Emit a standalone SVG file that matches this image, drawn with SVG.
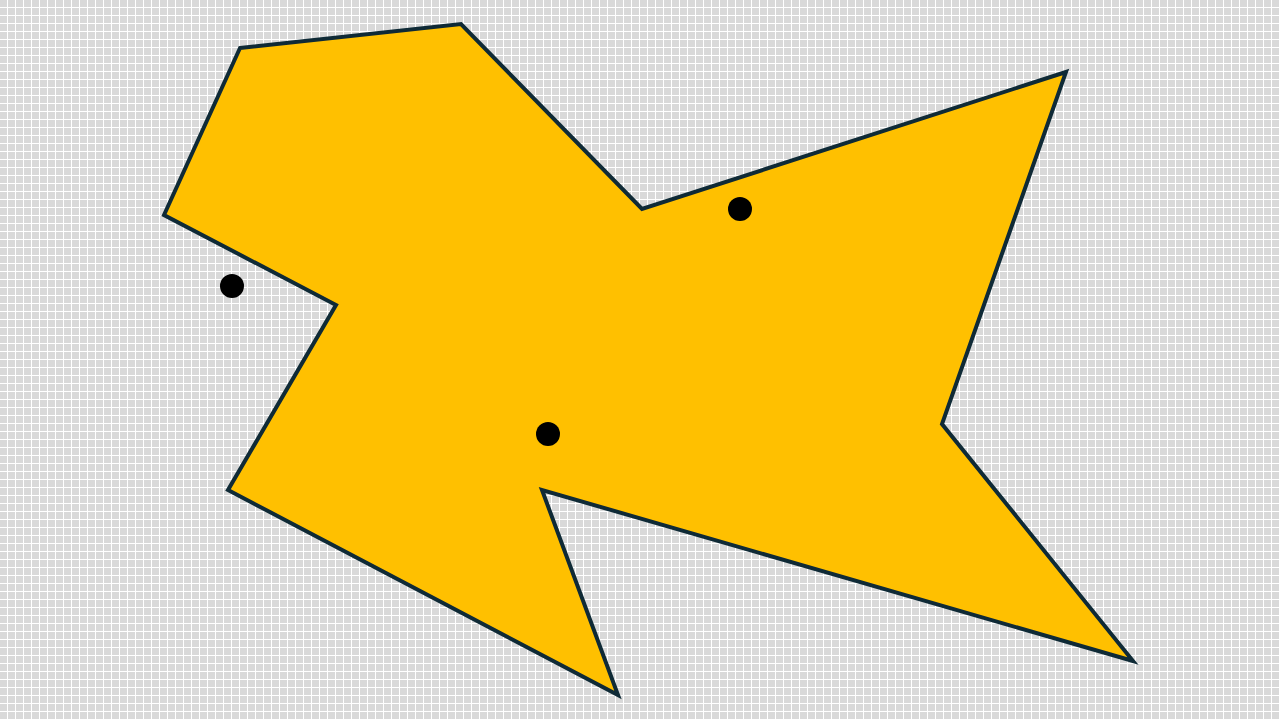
<svg xmlns="http://www.w3.org/2000/svg" width="1280" height="720" viewBox="0 0 1280 720">
<defs>
<pattern id="grid" x="0" y="0" width="8" height="8" patternUnits="userSpaceOnUse">
<rect x="0" y="0" width="8" height="8" fill="#ffffff"/>
<rect x="0" y="0" width="7" height="7" fill="#d9d9d9"/>
</pattern>
<style>
.shape{fill:#ffc000;stroke:#0f2a36;stroke-width:4;stroke-linejoin:miter}
.dot{fill:#000000}
</style>
</defs>
<rect width="1280" height="720" fill="url(#grid)"/>
<g id="polygon">
<polygon class="shape" points="240,48 461,24 642,209 1066,72 942,424 1133,661 542,490 618,695 228,490 336,305 164,215"/>
</g>
<g id="dots">
<circle class="dot" cx="232" cy="286" r="12"/>
<circle class="dot" cx="740" cy="209" r="12"/>
<circle class="dot" cx="548" cy="434" r="12"/>
</g>
</svg>
